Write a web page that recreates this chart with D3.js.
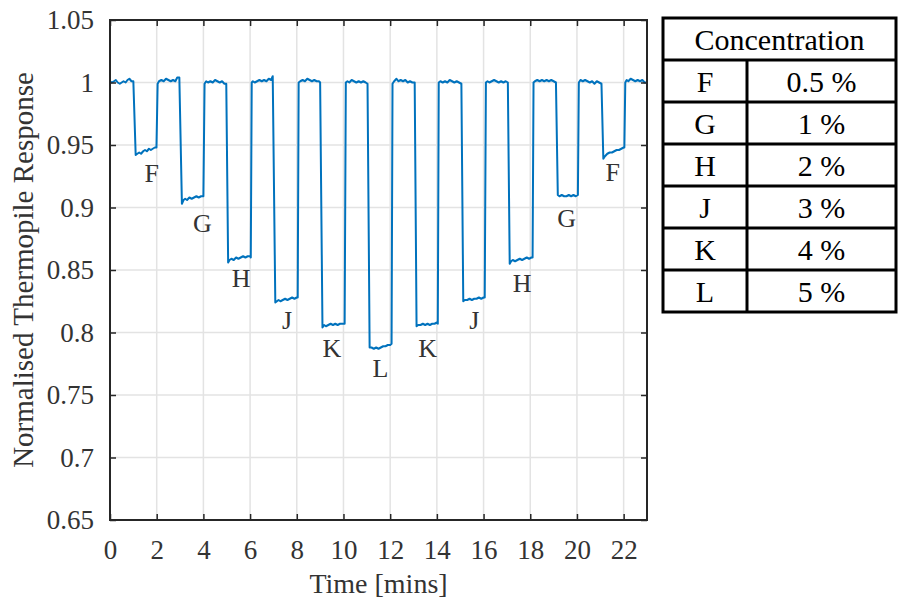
<!DOCTYPE html>
<html>
<head>
<meta charset="utf-8">
<script src="https://cdn.jsdelivr.net/npm/d3@7"></script>
<style>
  body { margin: 0; background: #fff; }
  svg { display: block; }
  text { font-family: "Liberation Serif", "Times New Roman", serif; }
</style>
</head>
<body>
<svg id="chart" width="898" height="606"></svg>
<script>
// Normalised thermopile output, [time (min), response]
const readings = [
  [0,1.001],[0.08,1.000],[0.17,1.001],[0.25,1.002],[0.33,1.000],[0.42,0.999],[0.5,1.000],[0.58,1.001],[0.67,1.000],[0.75,1.002],[0.83,1.003],[0.92,1.001],[1.0,1.001],
  [1.1,0.942],[1.17,0.943],[1.25,0.944],[1.33,0.943],[1.42,0.945],[1.5,0.946],[1.58,0.945],[1.67,0.947],[1.75,0.946],[1.83,0.947],[1.92,0.948],[1.99,0.948],
  [2.04,0.999],[2.1,1.001],[2.2,1.002],[2.3,1.001],[2.4,1.003],[2.5,1.002],[2.6,1.001],[2.7,1.002],[2.8,1.001],[2.88,1.004],[2.97,1.004],
  [3.08,0.903],[3.15,0.906],[3.22,0.907],[3.3,0.906],[3.4,0.908],[3.5,0.907],[3.6,0.908],[3.7,0.909],[3.8,0.908],[3.9,0.909],[4.0,0.909],
  [4.05,0.999],[4.12,1.001],[4.2,1.000],[4.3,1.001],[4.4,1.000],[4.5,1.002],[4.6,1.001],[4.7,1.000],[4.8,1.001],[4.9,0.999],[4.98,0.999],
  [5.06,0.856],[5.12,0.858],[5.2,0.859],[5.3,0.858],[5.4,0.860],[5.5,0.859],[5.6,0.860],[5.7,0.861],[5.8,0.860],[5.9,0.861],[6.0,0.861],[6.03,0.860],
  [6.07,1.000],[6.12,1.001],[6.2,1.000],[6.3,1.001],[6.4,1.002],[6.5,1.001],[6.6,1.002],[6.7,1.001],[6.8,1.003],[6.9,1.002],[6.97,1.005],
  [7.08,0.824],[7.15,0.825],[7.22,0.826],[7.3,0.825],[7.4,0.826],[7.5,0.827],[7.6,0.826],[7.7,0.827],[7.8,0.828],[7.9,0.827],[8.0,0.828],[8.04,0.828],
  [8.08,1.000],[8.15,1.001],[8.25,1.002],[8.35,1.001],[8.45,1.003],[8.55,1.002],[8.65,1.001],[8.75,1.002],[8.85,1.001],[8.95,1.001],[9.0,1.000],
  [9.1,0.804],[9.17,0.806],[9.25,0.805],[9.35,0.806],[9.45,0.807],[9.55,0.806],[9.65,0.807],[9.75,0.806],[9.85,0.807],[9.95,0.807],[10.05,0.807],
  [10.1,1.000],[10.17,1.001],[10.25,1.000],[10.35,1.002],[10.45,1.001],[10.55,1.000],[10.65,1.001],[10.75,1.000],[10.85,1.001],[10.95,1.000],[11.03,0.999],
  [11.12,0.788],[11.2,0.788],[11.3,0.787],[11.4,0.788],[11.5,0.787],[11.6,0.788],[11.7,0.789],[11.8,0.789],[11.9,0.790],[12.0,0.790],[12.06,0.791],
  [12.1,0.999],[12.17,1.001],[12.27,1.003],[12.35,1.001],[12.45,1.002],[12.55,1.001],[12.65,1.002],[12.75,1.000],[12.85,1.001],[12.95,1.000],[13.05,1.000],
  [13.13,0.805],[13.2,0.806],[13.3,0.806],[13.4,0.807],[13.5,0.806],[13.6,0.807],[13.7,0.806],[13.8,0.807],[13.9,0.807],[14.0,0.808],[14.04,0.807],
  [14.08,1.000],[14.15,1.001],[14.25,1.000],[14.35,1.001],[14.45,1.000],[14.55,1.002],[14.65,1.001],[14.75,1.000],[14.85,1.001],[14.95,1.000],[15.05,0.999],
  [15.13,0.825],[15.2,0.826],[15.3,0.826],[15.4,0.827],[15.5,0.826],[15.6,0.827],[15.7,0.827],[15.8,0.828],[15.9,0.827],[16.0,0.828],[16.05,0.828],
  [16.1,1.000],[16.17,1.001],[16.25,1.000],[16.35,1.001],[16.45,1.002],[16.55,1.001],[16.65,1.000],[16.75,1.001],[16.85,1.000],[16.95,1.001],[17.04,1.000],
  [17.12,0.855],[17.18,0.857],[17.25,0.858],[17.35,0.857],[17.45,0.858],[17.55,0.859],[17.65,0.858],[17.75,0.859],[17.85,0.860],[17.95,0.859],[18.05,0.860],[18.1,0.860],
  [18.14,1.000],[18.2,1.001],[18.3,1.002],[18.4,1.001],[18.5,1.002],[18.6,1.001],[18.7,1.002],[18.8,1.001],[18.9,1.002],[19.0,1.001],[19.1,1.000],
  [19.18,0.910],[19.25,0.909],[19.35,0.910],[19.45,0.909],[19.55,0.909],[19.65,0.910],[19.75,0.909],[19.85,0.910],[19.95,0.909],[20.04,0.910],
  [20.08,1.000],[20.15,1.002],[20.25,1.001],[20.35,1.002],[20.45,1.001],[20.55,1.000],[20.65,1.001],[20.75,0.999],[20.85,1.001],[20.95,1.000],[21.05,0.999],
  [21.13,0.939],[21.2,0.941],[21.3,0.943],[21.4,0.944],[21.5,0.944],[21.6,0.945],[21.7,0.946],[21.8,0.946],[21.9,0.947],[22.0,0.948],[22.03,0.948],
  [22.07,1.000],[22.13,1.002],[22.2,1.001],[22.3,1.003],[22.4,1.002],[22.5,1.001],[22.6,1.002],[22.7,1.001],[22.8,1.002],[22.9,1.000],[23.0,1.000]
];

// Axis ticks
const xTicks = [0, 2, 4, 6, 8, 10, 12, 14, 16, 18, 20, 22];
const yTicks = [0.65, 0.7, 0.75, 0.8, 0.85, 0.9, 0.95, 1, 1.05];
const yTickLabels = ["0.65", "0.7", "0.75", "0.8", "0.85", "0.9", "0.95", "1", "1.05"];

// Gas pulse annotations (text anchor in data units)
const pulseLabels = ["F", "G", "H", "J", "K", "L", "K", "J", "H", "G", "F"];
const labelTime  = [1.79, 3.96, 5.62, 7.58, 9.5, 11.58, 13.6, 15.6, 17.65, 19.56, 21.53];
const labelLevel = [0.9276, 0.8878, 0.8436, 0.81, 0.7876, 0.7716, 0.7876, 0.81, 0.8396, 0.8916, 0.9284];

// Concentration key
const keyTitle = "Concentration";
const gasCodes = ["F", "G", "H", "J", "K", "L"];
const gasConcentrations = ["0.5 %", "1 %", "2 %", "3 %", "4 %", "5 %"];

const svg = d3.select("#chart");
const plot = { left: 110, top: 20, right: 647, bottom: 520 };

const x = d3.scaleLinear().domain([0, 23]).range([plot.left, plot.right]);
const y = d3.scaleLinear().domain([0.65, 1.05]).range([plot.bottom, plot.top]);

const axisColor = "#262626";
const labelColor = "#333";

// Grid
const grid = svg.append("g");
grid.selectAll("line.gx").data(xTicks).join("line")
  .attr("x1", d => x(d)).attr("x2", d => x(d))
  .attr("y1", plot.top).attr("y2", plot.bottom)
  .attr("stroke", "#e3e3e3").attr("stroke-width", 1.5);
grid.selectAll("line.gy").data(yTicks).join("line")
  .attr("x1", plot.left).attr("x2", plot.right)
  .attr("y1", d => y(d)).attr("y2", d => y(d))
  .attr("stroke", "#e3e3e3").attr("stroke-width", 1.5);

// Data trace
svg.append("clipPath").attr("id", "plotClip").append("rect")
  .attr("x", plot.left).attr("y", plot.top)
  .attr("width", plot.right - plot.left).attr("height", plot.bottom - plot.top);

const line = d3.line().x(d => x(d[0])).y(d => y(d[1]));
svg.append("path")
  .datum(readings)
  .attr("clip-path", "url(#plotClip)")
  .attr("fill", "none")
  .attr("stroke", "#0072BD")
  .attr("stroke-width", 2)
  .attr("stroke-linejoin", "round")
  .attr("d", line);

// Axes (inward ticks on all four sides)
const tickLen = 6;
const bottomAxis = d3.axisBottom(x).tickValues(xTicks).tickSizeInner(-tickLen).tickSizeOuter(0).tickPadding(tickLen + 14);
const topAxis = d3.axisTop(x).tickValues(xTicks).tickSizeInner(-tickLen).tickSizeOuter(0).tickFormat("");
const leftAxis = d3.axisLeft(y).tickValues(yTicks).tickSizeInner(-tickLen).tickSizeOuter(0)
  .tickPadding(tickLen + 10).tickFormat((d, i) => yTickLabels[i]);
const rightAxis = d3.axisRight(y).tickValues(yTicks).tickSizeInner(-tickLen).tickSizeOuter(0).tickFormat("");

function styleAxis(g) {
  g.select(".domain").remove();
  g.selectAll(".tick line").attr("stroke", axisColor).attr("stroke-width", 1.5);
  g.selectAll(".tick text").attr("fill", labelColor).attr("font-size", 27)
    .attr("font-family", "'Liberation Serif', 'Times New Roman', serif");
}
svg.append("g").attr("transform", `translate(0,${plot.bottom})`).call(bottomAxis).call(styleAxis);
svg.append("g").attr("transform", `translate(0,${plot.top})`).call(topAxis).call(styleAxis);
svg.append("g").attr("transform", `translate(${plot.left},0)`).call(leftAxis).call(styleAxis);
svg.append("g").attr("transform", `translate(${plot.right},0)`).call(rightAxis).call(styleAxis);

svg.append("rect")
  .attr("x", plot.left).attr("y", plot.top)
  .attr("width", plot.right - plot.left).attr("height", plot.bottom - plot.top)
  .attr("fill", "none").attr("stroke", axisColor).attr("stroke-width", 2);

// Axis titles
svg.append("text")
  .attr("x", (plot.left + plot.right) / 2).attr("y", 593)
  .attr("text-anchor", "middle").attr("font-size", 28).attr("fill", labelColor)
  .text("Time [mins]");
svg.append("text")
  .attr("transform", `translate(33,${(plot.top + plot.bottom) / 2}) rotate(-90)`)
  .attr("text-anchor", "middle").attr("font-size", 29).attr("fill", labelColor)
  .text("Normalised Thermopile Response");

// Pulse labels
svg.append("g").selectAll("text").data(pulseLabels).join("text")
  .attr("x", (d, i) => x(labelTime[i]))
  .attr("y", (d, i) => y(labelLevel[i]))
  .attr("dy", "0.35em")
  .attr("text-anchor", "middle").attr("font-size", 26).attr("fill", labelColor)
  .text(d => d);

// Concentration key table
const tbl = { left: 663, right: 896, top: 18, rowH: 42, split: 747 };
const key = svg.append("g");
const nRows = gasCodes.length + 1;
const tblBottom = tbl.top + nRows * tbl.rowH;
key.append("rect")
  .attr("x", tbl.left).attr("y", tbl.top)
  .attr("width", tbl.right - tbl.left).attr("height", tblBottom - tbl.top)
  .attr("fill", "#fff").attr("stroke", "#000").attr("stroke-width", 3);
key.selectAll("line.row").data(gasCodes).join("line")
  .attr("x1", tbl.left).attr("x2", tbl.right)
  .attr("y1", (d, i) => tbl.top + (i + 1) * tbl.rowH)
  .attr("y2", (d, i) => tbl.top + (i + 1) * tbl.rowH)
  .attr("stroke", "#000").attr("stroke-width", 3);
key.append("line")
  .attr("x1", tbl.split).attr("x2", tbl.split)
  .attr("y1", tbl.top + tbl.rowH).attr("y2", tblBottom)
  .attr("stroke", "#000").attr("stroke-width", 3);
key.append("text")
  .attr("x", (tbl.left + tbl.right) / 2).attr("y", tbl.top + tbl.rowH / 2)
  .attr("dy", "0.35em").attr("text-anchor", "middle").attr("font-size", 30)
  .text(keyTitle);
key.selectAll("text.code").data(gasCodes).join("text")
  .attr("x", (tbl.left + tbl.split) / 2)
  .attr("y", (d, i) => tbl.top + (i + 1.5) * tbl.rowH)
  .attr("dy", "0.35em").attr("text-anchor", "middle").attr("font-size", 30)
  .text(d => d);
key.selectAll("text.conc").data(gasConcentrations).join("text")
  .attr("x", (tbl.split + tbl.right) / 2)
  .attr("y", (d, i) => tbl.top + (i + 1.5) * tbl.rowH)
  .attr("dy", "0.35em").attr("text-anchor", "middle").attr("font-size", 30)
  .text(d => d);
</script>
</body>
</html>
